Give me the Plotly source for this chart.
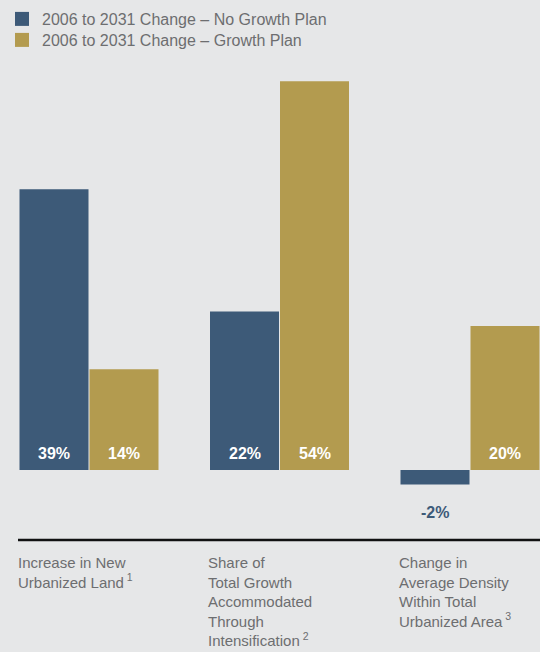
import plotly.graph_objects as go

# Categories and series values (percent change, 2006 to 2031)
categories = ["Increase in New Urbanized Land", "Share of Total Growth Accommodated Through Intensification",
              "Change in Average Density Within Total Urbanized Area"]
category_labels = [
    "Increase in New<br>Urbanized Land<sup> 1</sup>",
    "Share of<br>Total Growth<br>Accommodated<br>Through<br>Intensification<sup> 2</sup>",
    "Change in<br>Average Density<br>Within Total<br>Urbanized Area<sup> 3</sup>",
]
series_names = ["2006 to 2031 Change – No Growth Plan", "2006 to 2031 Change – Growth Plan"]
no_growth = [39, 22, -2]
growth = [14, 54, 20]

BLUE = "#3d5a78"
GOLD = "#b39b4f"
BG = "#e6e7e8"
TEXT = "#6d6e70"
FONT = "Liberation Sans, Arial, sans-serif"

x_idx = list(range(len(categories)))

fig = go.Figure()
fig.add_trace(go.Bar(x=x_idx, y=no_growth, name=series_names[0], showlegend=False,
                     marker=dict(color=BLUE, line=dict(width=0))))
fig.add_trace(go.Bar(x=x_idx, y=growth, name=series_names[1], showlegend=False,
                     marker=dict(color=GOLD, line=dict(width=0))))
# Legend entries with larger square swatches, one legend box per row
for name, col, lg in zip(series_names, [BLUE, GOLD], ["legend", "legend2"]):
    fig.add_trace(go.Scatter(x=[None], y=[None], mode="markers", name=name, legend=lg,
                             marker=dict(symbol="square", size=14, color=col, line=dict(width=0))))

W, H = 540, 652
top, bottom = 60, 112
plot_h = H - top - bottom
px_per_unit = 190.5           # horizontal spacing between categories
first_center = 89             # pixel position of first category
px_per_pct = 7.2              # vertical scale
baseline_px = 470             # pixel row of zero

x_range = [-first_center / px_per_unit, (W - first_center) / px_per_unit]
y_top = (baseline_px - top) / px_per_pct
y_bot = -((top + plot_h) - baseline_px) / px_per_pct

bargap = 1 - 140 / px_per_unit
bar_offset = 35 / px_per_unit

annotations = []
# Value labels
for i in x_idx:
    for val, off, in [(no_growth[i], -bar_offset), (growth[i], bar_offset)]:
        if val >= 0:
            annotations.append(dict(x=i + off, y=0, xref="x", yref="y", text=f"{val}%",
                                    showarrow=False, yanchor="middle", yshift=17,
                                    font=dict(family=FONT, size=16, color="white", weight="bold")))
        else:
            annotations.append(dict(x=i + off, y=val, xref="x", yref="y", text=f"{val}%",
                                    showarrow=False, yanchor="middle", yshift=-28,
                                    font=dict(family=FONT, size=16, color=BLUE, weight="bold")))

# Category labels under the axis line
for i, lab in zip(x_idx, category_labels):
    annotations.append(dict(x=i - bar_offset * 2 - (3.5 / px_per_unit), y=0, xref="x", yref="paper",
                            text=lab, showarrow=False, xanchor="left", yanchor="top", align="left",
                            yshift=-12,
                            font=dict(family=FONT, size=15, color=TEXT)))

legend_style = dict(xref="paper", yref="container", xanchor="left", yanchor="top",
                    orientation="v", bgcolor="rgba(0,0,0,0)",
                    font=dict(family=FONT, size=16, color=TEXT),
                    itemclick=False, itemdoubleclick=False)

fig.update_layout(
    width=W, height=H,
    margin=dict(l=0, r=0, t=top, b=bottom, pad=0),
    paper_bgcolor=BG, plot_bgcolor=BG,
    barmode="group", bargap=bargap, bargroupgap=1 / 70,
    showlegend=True,
    legend=dict(x=2 / W, y=1 - 2 / H, **legend_style),
    legend2=dict(x=2 / W, y=1 - 23 / H, **legend_style),
    xaxis=dict(range=x_range, visible=False, fixedrange=True),
    yaxis=dict(range=[y_bot, y_top], visible=False, fixedrange=True),
    shapes=[dict(type="line", xref="paper", yref="paper", x0=18 / W, x1=1, y0=0, y1=0,
                 line=dict(color="#111111", width=2.5))],
    annotations=annotations,
)

fig.write_html("out.html")
